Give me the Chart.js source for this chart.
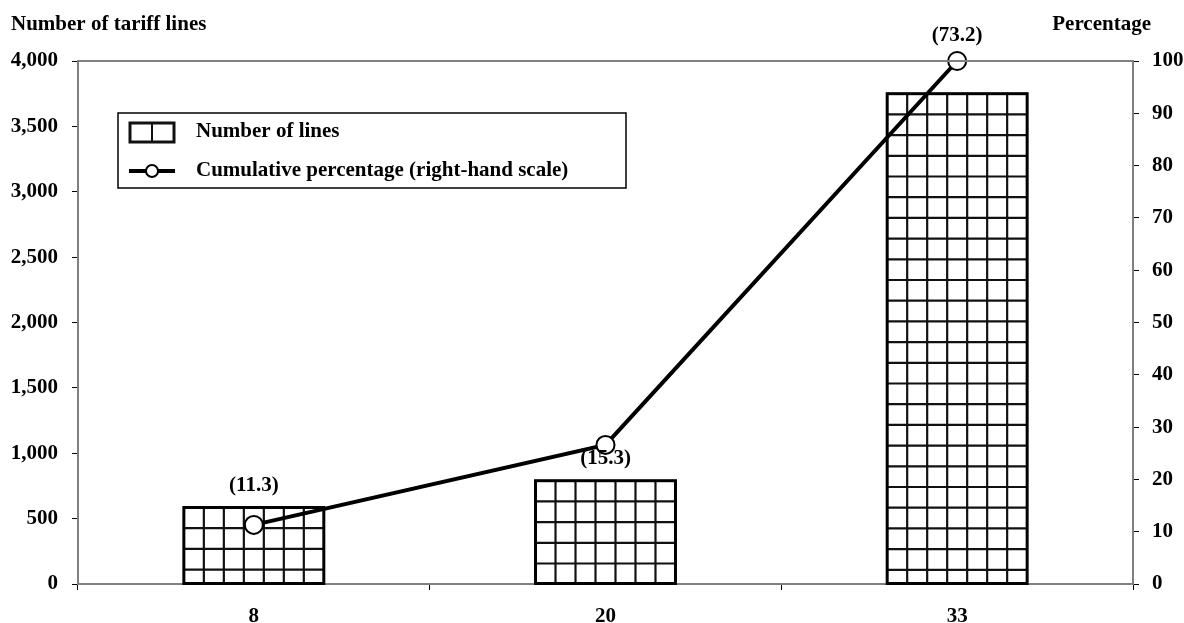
<!DOCTYPE html>
<html><head><meta charset="utf-8">
<script src="https://cdn.jsdelivr.net/npm/chart.js@4"></script>
<style>html,body{margin:0;padding:0;background:#fff}#wrap{width:1184px;height:623px}</style>
</head><body><div id="wrap"><canvas id="c" width="1184" height="623"></canvas></div>
<script>
const categories = ['8', '20', '33'];
const numberOfLines = [585, 790, 3750];
const cumulativePct = [11.3, 26.6, 100];
const shareLabels = ['(11.3)', '(15.3)', '(73.2)'];
const leftTitle = 'Number of tariff lines';
const rightTitle = 'Percentage';
const barLabel = 'Number of lines';
const lineLabel = 'Cumulative percentage (right-hand scale)';

const FONT = "'Liberation Serif', 'Times New Roman', serif";
const tickFont = {family: FONT, size: 21, weight: 'bold'};

const decor = {
  id: 'decor',
  afterDatasetDraw(chart, args) {
    if (args.index !== 0) return;
    const ctx = chart.ctx;
    args.meta.data.forEach(bar => {
      const p = bar.getProps(['x', 'y', 'base', 'width'], true);
      const left = p.x - p.width / 2, top = p.y, w = p.width, h = p.base - p.y;
      ctx.save();
      ctx.beginPath(); ctx.rect(left, top, w, h); ctx.clip();
      ctx.strokeStyle = '#111'; ctx.lineWidth = 2.2;
      ctx.beginPath();
      const cw = w / 7;
      for (let i = 1; i < 7; i++) { ctx.moveTo(left + i * cw, top); ctx.lineTo(left + i * cw, top + h); }
      for (let gy = top + 20.7; gy < top + h; gy += 20.7) { ctx.moveTo(left, gy); ctx.lineTo(left + w, gy); }
      ctx.stroke();
      ctx.restore();
      ctx.save();
      ctx.strokeStyle = '#000'; ctx.lineWidth = 3;
      ctx.strokeRect(left, top, w, h);
      ctx.restore();
    });
  },
  afterDraw(chart) {
    const ctx = chart.ctx, a = chart.chartArea;
    ctx.save();
    ctx.strokeStyle = '#808080'; ctx.lineWidth = 2;
    ctx.beginPath(); ctx.moveTo(a.left, a.top); ctx.lineTo(a.right, a.top); ctx.lineTo(a.right, a.bottom); ctx.stroke();
    ctx.fillStyle = '#000';
    ctx.font = "bold 21px " + FONT;
    ctx.textBaseline = 'middle';
    ctx.textAlign = 'left';
    ctx.fillText(leftTitle, 11, 25);
    ctx.textAlign = 'right';
    ctx.fillText(rightTitle, 1151, 25);
    const meta = chart.getDatasetMeta(0);
    const offs = [22, 22, 58];
    ctx.textAlign = 'center';
    meta.data.forEach((bar, i) => {
      ctx.fillText(shareLabels[i], bar.x, bar.y - offs[i]);
    });
    // legend
    const lx = 118, ly = 113, lw = 508, lh = 75;
    ctx.fillStyle = '#fff';
    ctx.fillRect(lx, ly, lw, lh);
    ctx.strokeStyle = '#000'; ctx.lineWidth = 1.5;
    ctx.strokeRect(lx, ly, lw, lh);
    ctx.fillStyle = '#fff';
    ctx.fillRect(130, 123, 44, 19);
    ctx.strokeStyle = '#111'; ctx.lineWidth = 3;
    ctx.strokeRect(130, 123, 44, 19);
    ctx.lineWidth = 2;
    ctx.beginPath(); ctx.moveTo(152, 123); ctx.lineTo(152, 142); ctx.stroke();
    ctx.strokeStyle = '#000'; ctx.lineWidth = 4;
    ctx.beginPath(); ctx.moveTo(129, 171); ctx.lineTo(175, 171); ctx.stroke();
    ctx.beginPath(); ctx.arc(152, 171, 6, 0, Math.PI * 2);
    ctx.fillStyle = '#fff'; ctx.fill(); ctx.lineWidth = 2; ctx.stroke();
    ctx.fillStyle = '#000';
    ctx.textAlign = 'left';
    ctx.fillText(barLabel, 196, 132);
    ctx.fillText(lineLabel, 196, 171);
    ctx.restore();
  }
};

new Chart(document.getElementById('c'), {
  type: 'bar',
  data: {
    labels: categories,
    datasets: [
      {
        type: 'bar', label: barLabel, data: numberOfLines, yAxisID: 'y',
        backgroundColor: '#fff', borderWidth: 0, order: 1,
        barPercentage: 0.796, categoryPercentage: 0.5
      },
      {
        type: 'line', label: lineLabel, data: cumulativePct, yAxisID: 'y1',
        borderColor: '#000', borderWidth: 4, pointRadius: 9, pointHoverRadius: 9,
        pointBackgroundColor: '#fff', pointBorderColor: '#000', pointBorderWidth: 2,
        order: 0, clip: false, tension: 0
      }
    ]
  },
  options: {
    responsive: false, animation: false,
    layout: {padding: {top: 61, left: 0, right: 0, bottom: 0}},
    plugins: {legend: {display: false}, tooltip: {enabled: false}},
    scales: {
      x: {
        offset: true,
        grid: {display: true, drawOnChartArea: false, offset: true, tickLength: 6, color: '#000'},
        border: {color: '#808080', width: 2},
        ticks: {font: tickFont, color: '#000', padding: 14},
        afterFit: s => { s.height = 39; }
      },
      y: {
        position: 'left', min: 0, max: 4000,
        ticks: {stepSize: 500, font: tickFont, color: '#000', padding: 14,
          callback: v => v.toLocaleString('en-US')},
        grid: {display: true, drawOnChartArea: false, tickLength: 6, color: '#000'},
        border: {color: '#808080', width: 2},
        afterFit: s => { s.width = 78; }
      },
      y1: {
        position: 'right', min: 0, max: 100,
        ticks: {stepSize: 10, font: tickFont, color: '#000', padding: 13},
        grid: {display: true, drawOnChartArea: false, tickLength: 6, color: '#000'},
        border: {color: '#808080', width: 2},
        afterFit: s => { s.width = 51; }
      }
    }
  },
  plugins: [decor]
});
</script>
</body></html>
